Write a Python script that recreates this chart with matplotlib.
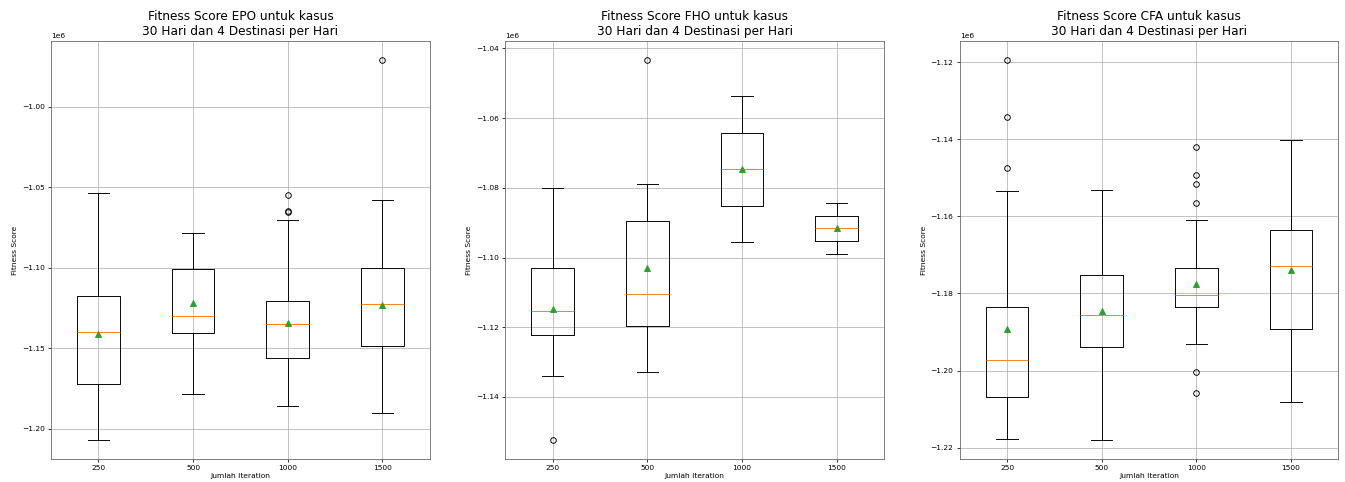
import numpy as np
import matplotlib
matplotlib.use("Agg")
from matplotlib import pyplot as plt

iterations = ["250", "500", "1000", "1500"]
algorithms = ["EPO", "FHO", "CFA"]

# five-number summaries per iteration count (values in units of 1e6)
epo_whislo = [-1.2070, -1.1782, -1.1861, -1.1904]
epo_q1 = [-1.1720, -1.1405, -1.1564, -1.1488]
epo_med = [-1.1403, -1.1299, -1.1353, -1.1229]
epo_q3 = [-1.1177, -1.1009, -1.1206, -1.1005]
epo_whishi = [-1.0535, -1.0783, -1.0702, -1.0578]
epo_mean = [-1.1415, -1.1220, -1.1345, -1.1235]
epo_fliers = [[], [], [-1.0549, -1.0651, -1.0657], [-0.9710]]

fho_whislo = [-1.1339, -1.1328, -1.0956, -1.0991]
fho_q1 = [-1.1223, -1.1196, -1.0852, -1.0953]
fho_med = [-1.1154, -1.1105, -1.0747, -1.0916]
fho_q3 = [-1.1031, -1.0894, -1.0643, -1.0880]
fho_whishi = [-1.0799, -1.0790, -1.0537, -1.0842]
fho_mean = [-1.1148, -1.1031, -1.0745, -1.0915]
fho_fliers = [[-1.1523], [-1.0433], [], []]

cfa_whislo = [-1.2177, -1.2180, -1.1932, -1.2082]
cfa_q1 = [-1.2070, -1.1940, -1.1834, -1.1891]
cfa_med = [-1.1974, -1.1855, -1.1803, -1.1728]
cfa_q3 = [-1.1836, -1.1753, -1.1735, -1.1635]
cfa_whishi = [-1.1533, -1.1531, -1.1610, -1.1403]
cfa_mean = [-1.1893, -1.1846, -1.1776, -1.1738]
cfa_fliers = [[-1.1194, -1.1343, -1.1474], [],
              [-1.1421, -1.1493, -1.1517, -1.1565, -1.2004, -1.2058], []]

summaries = {
    "EPO": (epo_whislo, epo_q1, epo_med, epo_q3, epo_whishi, epo_mean, epo_fliers),
    "FHO": (fho_whislo, fho_q1, fho_med, fho_q3, fho_whishi, fho_mean, fho_fliers),
    "CFA": (cfa_whislo, cfa_q1, cfa_med, cfa_q3, cfa_whishi, cfa_mean, cfa_fliers),
}


def build_stats(whislo, q1, med, q3, whishi, mean, fliers):
    stats = []
    for i, label in enumerate(iterations):
        stats.append({
            "label": label,
            "whislo": whislo[i] * 1e6,
            "q1": q1[i] * 1e6,
            "med": med[i] * 1e6,
            "q3": q3[i] * 1e6,
            "whishi": whishi[i] * 1e6,
            "mean": mean[i] * 1e6,
            "fliers": np.array(fliers[i]) * 1e6,
        })
    return stats


plt.rcParams["font.size"] = 8
plt.rcParams["axes.edgecolor"] = "0.35"

fig, axes = plt.subplots(1, 3, figsize=(20, 482 / 67.25), dpi=67.25)
fig.subplots_adjust(left=0.038, right=0.995, top=0.915, bottom=0.048, wspace=0.2)

for ax, name in zip(axes, algorithms):
    stats = build_stats(*summaries[name])
    ax.bxp(stats, showmeans=True)
    ax.set_title(f"Fitness Score {name} untuk kasus\n30 Hari dan 4 Destinasi per Hari", fontsize=13)
    ax.set_xlabel("Jumlah Iteration", labelpad=2)
    ax.set_ylabel("Fitness Score")
    ax.grid(True)

fig.savefig("out.png", dpi=67.25)
